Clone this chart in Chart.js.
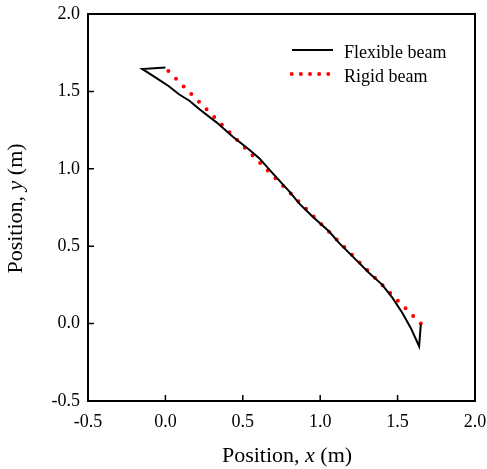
<!DOCTYPE html>
<html>
<head>
<meta charset="utf-8">
<script src="https://cdn.jsdelivr.net/npm/chart.js@4/dist/chart.umd.min.js"></script>
<style>
html,body{margin:0;padding:0;background:#fff;}
#wrap{width:487px;height:469px;}
</style>
</head>
<body>
<div id="wrap"><canvas id="c" width="487" height="469"></canvas></div>
<script>
const flexX = [0.0,-0.15,-0.06,0.02,0.09,0.155,0.22,0.33,0.434,0.542,0.606,0.692,0.8,0.865,0.95,1.058,1.123,1.23,1.316,1.40,1.467,1.531,1.585,1.639,1.65];
const flexY = [1.655,1.645,1.587,1.535,1.48,1.44,1.385,1.30,1.208,1.123,1.069,0.972,0.854,0.775,0.692,0.595,0.52,0.413,0.327,0.252,0.166,0.069,-0.028,-0.146,-0.005];
const rigidX = [1.65, 0.0];
const rigidY = [0.0, 1.65];
const xTicks = [-0.5,0.0,0.5,1.0,1.5,2.0];
const yTicks = [-0.5,0.0,0.5,1.0,1.5,2.0];
const seriesNames = ['Flexible beam','Rigid beam'];
const xTitle = ['Position, ','x',' (m)'];
const yTitle = ['Position, ','y',' (m)'];

const FONT = "'Liberation Serif','Times New Roman',serif";

function drawMixed(ctx, parts, cx, cy, size){
  const fonts = parts.map((p,i)=> (i===1?'italic ':'') + size+'px '+FONT);
  let w = 0;
  const ws = parts.map((p,i)=>{ctx.font=fonts[i]; const m=ctx.measureText(p).width; w+=m; return m;});
  let x = cx - w/2;
  ctx.textAlign='left';
  ctx.textBaseline='alphabetic';
  parts.forEach((p,i)=>{ctx.font=fonts[i]; ctx.fillText(p,x,cy); x+=ws[i];});
}

const boxPlugin = {
  id:'boxPlugin',
  afterDraw(chart){
    const {ctx, chartArea:a, scales} = chart;
    ctx.save();
    ctx.strokeStyle='#000';
    ctx.lineWidth=2;
    ctx.setLineDash([]);
    ctx.strokeRect(a.left, a.top, a.right-a.left, a.bottom-a.top);
    ctx.lineWidth=1.5;
    ctx.beginPath();
    xTicks.forEach(v=>{const p=scales.x.getPixelForValue(v); ctx.moveTo(p,a.bottom); ctx.lineTo(p,a.bottom-6);});
    yTicks.forEach(v=>{const p=scales.y.getPixelForValue(v); ctx.moveTo(a.left,p); ctx.lineTo(a.left+6,p);});
    ctx.stroke();
    // legend
    const ds = chart.data.datasets;
    const lineY=[50,74], textY=[57.5,81.5];
    ds.forEach((d,i)=>{
      ctx.beginPath();
      ctx.strokeStyle=d.borderColor;
      ctx.lineWidth=d.borderWidth;
      ctx.lineCap=d.borderCapStyle||'butt';
      if(i===1){ ctx.setLineDash([0,9.15]); ctx.moveTo(291.7,lineY[i]); ctx.lineTo(329,lineY[i]); }
      else { ctx.setLineDash([]); ctx.moveTo(292,lineY[i]); ctx.lineTo(333,lineY[i]); }
      ctx.stroke();
      ctx.setLineDash([]);
      ctx.fillStyle='#000';
      ctx.font="18px "+FONT;
      ctx.textBaseline='alphabetic';
      ctx.textAlign='left';
      ctx.fillText(d.label, 344, textY[i]);
    });
    // axis titles
    ctx.fillStyle='#000';
    drawMixed(ctx, xTitle, 287, 462, 22);
    ctx.translate(22, (a.top+a.bottom)/2+1);
    ctx.rotate(-Math.PI/2);
    drawMixed(ctx, yTitle, 0, 0, 22);
    ctx.restore();
  }
};

new Chart(document.getElementById('c'), {
  type:'scatter',
  data:{
    datasets:[
      {label:seriesNames[0], data:flexX.map((x,i)=>({x:x,y:flexY[i]})), showLine:true, borderColor:'#000', borderWidth:2, pointRadius:0, tension:0, fill:false},
      {label:seriesNames[1], data:rigidX.map((x,i)=>({x:x,y:rigidY[i]})), showLine:true, borderColor:'#ff0000', borderWidth:4, borderCapStyle:'round', borderDash:[0,10.82], pointRadius:0, tension:0, fill:false}
    ]
  },
  plugins:[boxPlugin],
  options:{
    responsive:false,
    animation:false,
    layout:{padding:{top:14,right:12,left:0,bottom:0}},
    plugins:{legend:{display:false},tooltip:{enabled:false}},
    scales:{
      x:{type:'linear',min:-0.5,max:2.0,
        afterBuildTicks:s=>{s.ticks=xTicks.map(v=>({value:v}));},
        afterFit:s=>{s.height=68; s.paddingRight=0; s.paddingLeft=0;},
        ticks:{callback:v=>v.toFixed(1),color:'#000',font:{family:FONT,size:18},padding:10,maxRotation:0},
        grid:{display:false,drawTicks:false},border:{display:false},
        title:{display:false}
      },
      y:{type:'linear',min:-0.5,max:2.0,
        afterBuildTicks:s=>{s.ticks=yTicks.map(v=>({value:v}));},
        afterFit:s=>{s.width=88; s.paddingTop=0; s.paddingBottom=0;},
        ticks:{callback:v=>v.toFixed(1),color:'#000',font:{family:FONT,size:18},padding:8},
        grid:{display:false,drawTicks:false},border:{display:false},
        title:{display:false}
      }
    }
  }
});
</script>
</body>
</html>
